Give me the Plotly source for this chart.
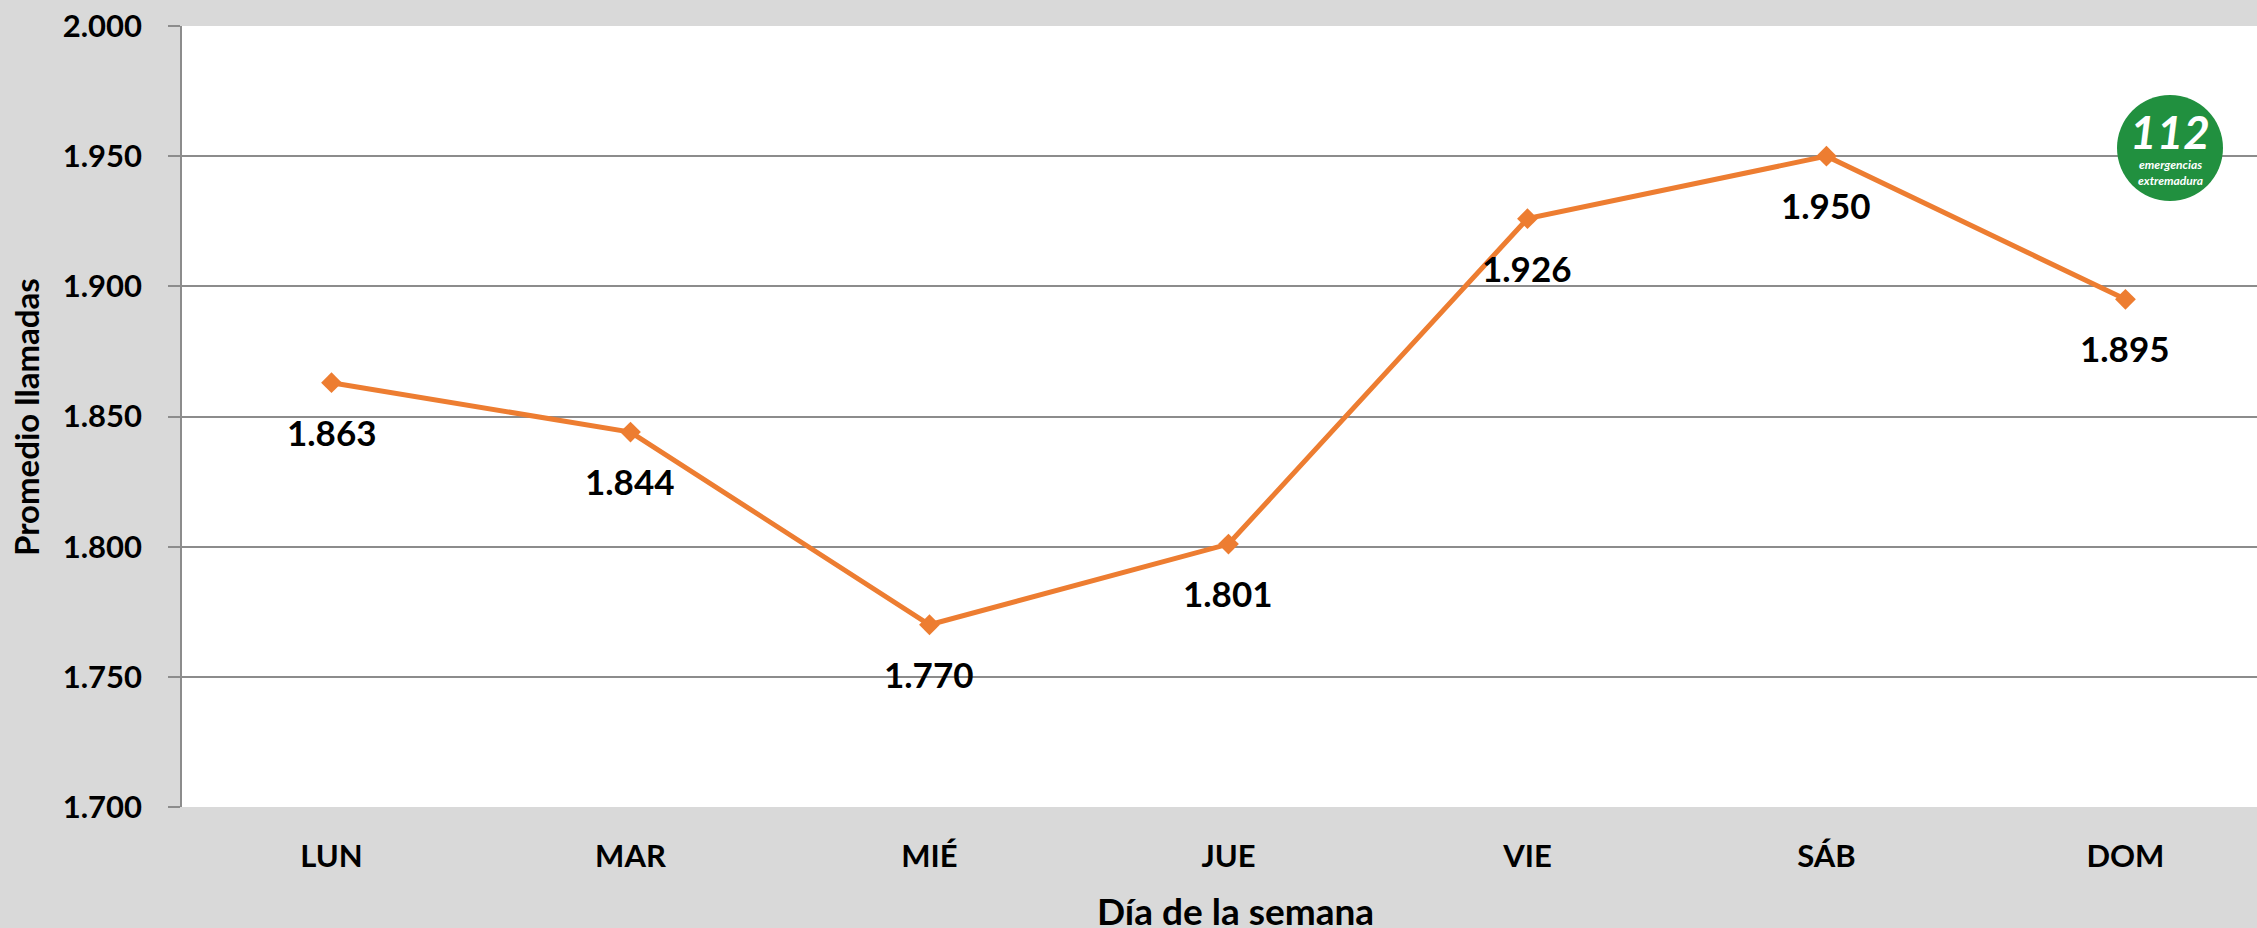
import plotly.graph_objects as go

days = ["LUN", "MAR", "MIÉ", "JUE", "VIE", "SÁB", "DOM"]
avg_calls = [1863, 1844, 1770, 1801, 1926, 1950, 1895]
y_ticks = [1700, 1750, 1800, 1850, 1900, 1950, 2000]

W, H = 2257, 928
L, R, T, B = 182, 0, 26, 121
pw, ph = W - L - R, H - T - B

def px_x(px):
    return (px - L) / pw

def px_y(py):
    return (H - B - py) / ph

FONT = "Lato"
orange = "#ED7D31"

fig = go.Figure()
fig.add_trace(go.Scatter(
    x=days, y=avg_calls, mode="lines+markers",
    line=dict(color=orange, width=5),
    marker=dict(symbol="diamond", size=16, color=orange),
    hoverinfo="skip", showlegend=False,
))

annotations = []
for d, v in zip(days, avg_calls):
    annotations.append(dict(
        x=d, y=v, xref="x", yref="y", text=f"{v:,}".replace(",", "."),
        showarrow=False, yshift=-49, xanchor="center", yanchor="middle",
        font=dict(family=FONT, size=35, color="black", weight="bold"),
    ))

annotations.append(dict(
    x=px_x(1235), y=px_y(910), xref="paper", yref="paper",
    text="Día de la semana", showarrow=False,
    xanchor="center", yanchor="middle",
    font=dict(family=FONT, size=37, color="black", weight="bold"),
))
annotations.append(dict(
    x=px_x(26), y=px_y(417), xref="paper", yref="paper",
    text="Promedio llamadas", showarrow=False, textangle=-90,
    xanchor="center", yanchor="middle",
    font=dict(family=FONT, size=33, color="black", weight="bold"),
))
# logo
cx, cy = px_x(2170), px_y(148)
annotations.append(dict(
    x=cx, y=px_y(131), xref="paper", yref="paper", text="<i>112</i>",
    showarrow=False, xanchor="center", yanchor="middle",
    font=dict(family=FONT, size=46, color="white", weight="bold"),
))
annotations.append(dict(
    x=cx, y=px_y(173), xref="paper", yref="paper",
    text="<i>emergencias<br>extremadura</i>", showarrow=False,
    xanchor="center", yanchor="middle",
    font=dict(family=FONT, size=12, color="white", weight="bold"),
))

fig.update_layout(
    width=W, height=H,
    margin=dict(l=L, r=R, t=T, b=B),
    paper_bgcolor="#D9D9D9", plot_bgcolor="white",
    separators=",.",
    annotations=annotations,
    shapes=[dict(
        type="circle", xref="paper", yref="paper",
        xsizemode="pixel", ysizemode="pixel",
        xanchor=cx, yanchor=cy, x0=-53, x1=53, y0=-53, y1=53,
        fillcolor="#21903F", line=dict(width=0), layer="above",
    )],
    xaxis=dict(
        type="category", range=[-0.5, 6.44],
        showgrid=False, showline=False, ticks="",
        tickfont=dict(family=FONT, size=31, color="black", weight="bold"),
        ticklabelstandoff=28, fixedrange=True,
    ),
    yaxis=dict(
        range=[1700, 2000], tickvals=y_ticks, tickformat=",d",
        showgrid=True, gridcolor="#8C8C8C", gridwidth=1.5,
        showline=True, linecolor="#8C8C8C", linewidth=1.5,
        ticks="outside", ticklen=12, tickcolor="#8C8C8C", tickwidth=1.5,
        tickfont=dict(family=FONT, size=31, color="black", weight="bold"),
        ticklabelstandoff=20, zeroline=False, fixedrange=True,
    ),
)

fig.write_html(
    "out.html",
    config={"displayModeBar": False},
    post_script="document.body.style.margin='0';document.body.style.overflow='hidden';",
)
